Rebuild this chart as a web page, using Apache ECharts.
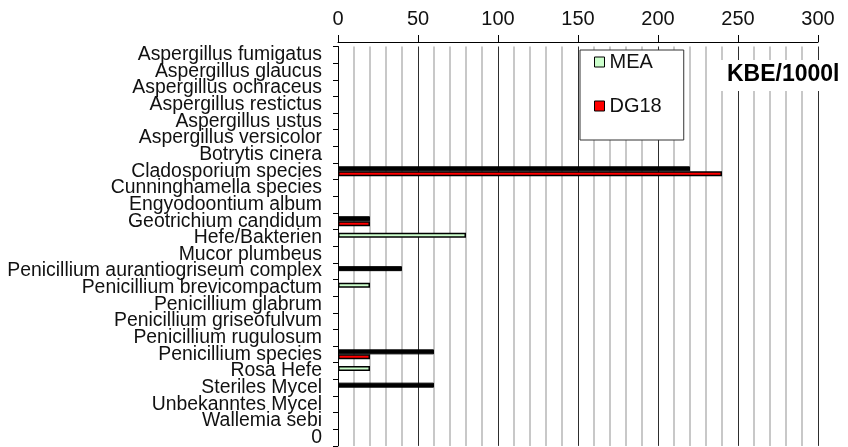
<!DOCTYPE html>
<html>
<head>
<meta charset="utf-8">
<script src="https://cdn.jsdelivr.net/npm/echarts@6/dist/echarts.min.js"></script>
<style>
  html, body { margin: 0; padding: 0; background: #fff; }
  #chart { width: 848px; height: 447px; }
</style>
</head>
<body>
<div id="chart"></div>
<script>
// Kategorien (von oben nach unten)
const categories = [
  'Aspergillus fumigatus', 'Aspergillus glaucus', 'Aspergillus ochraceus',
  'Aspergillus restictus', 'Aspergillus ustus', 'Aspergillus versicolor',
  'Botrytis cinera', 'Cladosporium species', 'Cunninghamella species',
  'Engyodoontium album', 'Geotrichium candidum', 'Hefe/Bakterien',
  'Mucor plumbeus', 'Penicillium aurantiogriseum complex',
  'Penicillium brevicompactum', 'Penicillium glabrum',
  'Penicillium griseofulvum', 'Penicillium rugulosum', 'Penicillium species',
  'Rosa Hefe', 'Steriles Mycel', 'Unbekanntes Mycel', 'Wallemia sebi', '0'
];
// MEA (hellgrün)
const meaValues = [0, 0, 0, 0, 0, 0, 0, 0, 0, 0, 0, 80, 0, 0, 20, 0, 0, 0, 0, 20, 0, 0, 0, 0];
// schwarze Balken (ohne Legende)
const blackValues = [0, 0, 0, 0, 0, 0, 0, 220, 0, 0, 20, 0, 0, 40, 0, 0, 0, 0, 60, 0, 60, 0, 0, 0];
// DG18 (rot)
const dg18Values = [0, 0, 0, 0, 0, 0, 0, 240, 0, 0, 20, 0, 0, 0, 0, 0, 0, 0, 20, 0, 0, 0, 0, 0];
const xTicks = { min: 0, max: 300, interval: 50 };

const font = 'Liberation Sans';
const toBar = (arr) => arr.map((v) => (v ? v : null));

const chart = echarts.init(document.getElementById('chart'));
chart.setOption({
  animation: false,
  backgroundColor: '#fff',
  textStyle: { fontFamily: font },
  grid: { left: 338, right: 30, top: 46.5, bottom: -2, containLabel: false },
  legend: {
    data: ['MEA', 'DG18'],
    orient: 'vertical',
    left: 580,
    top: 50,
    padding: [2, 22, 24, 14],
    itemGap: 24,
    itemWidth: 10,
    itemHeight: 10,
    icon: 'rect',
    itemStyle: { borderColor: '#000', borderWidth: 1 },
    backgroundColor: '#fff',
    borderColor: '#333',
    borderWidth: 1,
    textStyle: { fontFamily: font, fontSize: 20, color: '#111' },
  },
  xAxis: {
    type: 'value',
    position: 'top',
    offset: 4.5,
    min: xTicks.min,
    max: xTicks.max,
    interval: xTicks.interval,
    axisLine: { show: true, lineStyle: { color: '#000', width: 1 } },
    axisTick: { show: true, length: 7, lineStyle: { color: '#000' } },
    axisLabel: { fontFamily: font, fontSize: 20, color: '#111', margin: 13 },
    splitLine: { show: true, lineStyle: { color: '#2e2e2e', width: 1 } },
    minorTick: { show: false, splitNumber: 5 },
    minorSplitLine: { show: true, lineStyle: { color: '#c8c8c8', width: 2 } },
  },
  yAxis: {
    type: 'category',
    data: categories,
    inverse: true,
    axisLine: { show: true, lineStyle: { color: '#000', width: 1 } },
    axisTick: { show: true, length: 5, lineStyle: { color: '#000' } },
    axisLabel: { fontFamily: font, fontSize: 19.4, color: '#111', margin: 16, interval: 0 },
    splitLine: { show: false },
  },
  graphic: [
    { type: 'rect', left: 718, top: 60, shape: { width: 130, height: 31 }, style: { fill: '#fff' }, z: 10 },
    {
      type: 'text',
      left: 727,
      top: 63,
      style: { text: 'KBE/1000l', font: 'bold 23px "Liberation Sans"', fill: '#000' },
      z: 11,
    },
  ],
  series: [
    {
      name: 'MEA',
      type: 'bar',
      stack: 'oben',
      data: toBar(meaValues),
      barWidth: 5,
      barGap: '0%',
      itemStyle: { color: '#ccffcc', borderColor: '#000', borderWidth: 1.5 },
    },
    {
      name: 'schwarz',
      type: 'bar',
      stack: 'oben',
      data: toBar(blackValues),
      barWidth: 5.5,
      barGap: '0%',
      itemStyle: { color: '#000', borderColor: '#000', borderWidth: 1 },
    },
    {
      name: 'DG18',
      type: 'bar',
      data: toBar(dg18Values),
      barWidth: 5,
      barGap: '0%',
      itemStyle: { color: '#ff0000', borderColor: '#000', borderWidth: 1.5 },
    },
  ],
});
</script>
</body>
</html>
